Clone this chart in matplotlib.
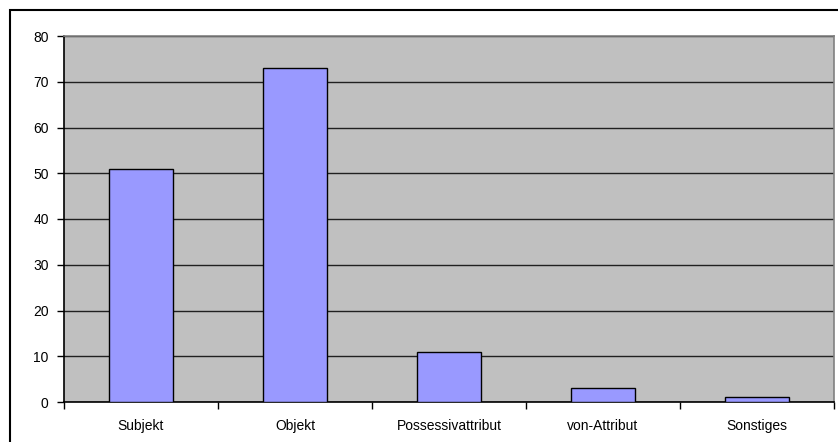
import matplotlib.pyplot as plt
from matplotlib.patches import Rectangle

categories = ['Subjekt', 'Objekt', 'Possessivattribut', 'von-Attribut', 'Sonstiges']
values = [51, 73, 11, 3, 1]
yticks = [0, 10, 20, 30, 40, 50, 60, 70, 80]

plt.rcParams['font.family'] = ['Liberation Sans', 'DejaVu Sans']

fig = plt.figure(figsize=(8.38, 4.42), dpi=100)
fig.patch.set_facecolor('white')

# frame around the whole chart (runs off the right and bottom edges)
fig.patches.append(Rectangle((10 / 838, -0.1), 1.2, 1.1 - 10 / 442 + 0.0,
                             transform=fig.transFigure, fill=False,
                             edgecolor='black', linewidth=1.5))

ax = fig.add_axes([64 / 838, 40 / 442, 770 / 838, 366 / 442])
ax.set_facecolor('#C0C0C0')

x = range(len(categories))
ax.bar(x, values, width=0.41, color='#9999FF', edgecolor='black',
       linewidth=1.0, zorder=3)

ax.set_xlim(-0.5, len(categories) - 0.5)
ax.set_ylim(0, 80)
ax.set_yticks(yticks)
ax.yaxis.grid(True, color='#202020', linewidth=1.0, zorder=1)
ax.set_axisbelow(True)

ax.set_xticks(list(x))
ax.set_xticklabels(categories, fontsize=10)
ax.tick_params(axis='x', length=0, pad=12)
ax.set_xticks([i - 0.5 for i in range(len(categories) + 1)], minor=True)
ax.tick_params(axis='x', which='minor', length=5, width=1, direction='out')
ax.tick_params(axis='y', labelsize=10, length=5, width=1, direction='out', pad=6)

for side in ['left', 'bottom']:
    ax.spines[side].set_color('black')
    ax.spines[side].set_linewidth(1.2)
for side in ['top', 'right']:
    ax.spines[side].set_color('#808080')
    ax.spines[side].set_linewidth(1.2)

fig.savefig('out.png', dpi=100)
